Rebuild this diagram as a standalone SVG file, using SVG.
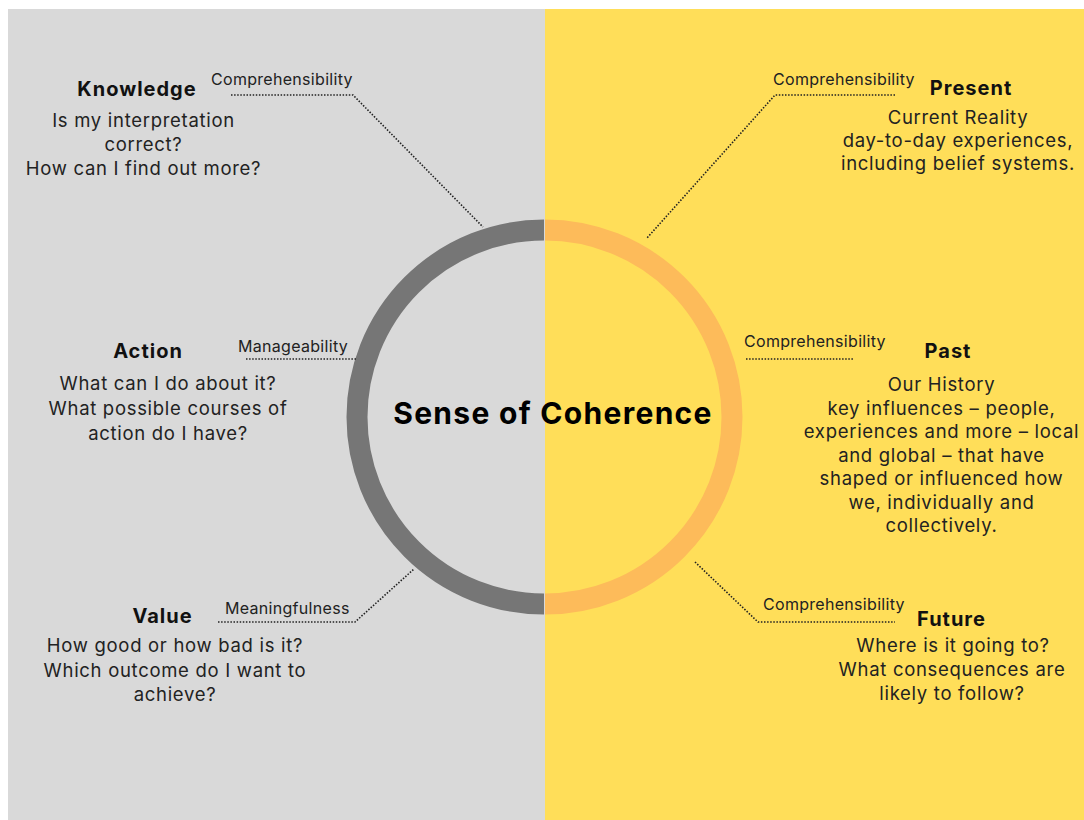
<svg xmlns="http://www.w3.org/2000/svg" width="1084" height="820" viewBox="0 0 1084 820">
  <style>
    .title { font-family: Inter, "DejaVu Sans", sans-serif; font-weight: 700; font-size: 20px; letter-spacing: 1px; fill: #111; text-anchor: middle; }
    .body { font-family: Inter, "DejaVu Sans", sans-serif; font-weight: 400; font-size: 18.5px; letter-spacing: 0.7px; fill: #222; text-anchor: middle; }
    .label { font-family: Inter, "DejaVu Sans", sans-serif; font-weight: 400; font-size: 16px; letter-spacing: 0.3px; fill: #222; text-anchor: start; }
    .center { font-family: Inter, "DejaVu Sans", sans-serif; font-weight: 700; font-size: 30px; letter-spacing: 1.3px; fill: #000; text-anchor: middle; }
    .dot { fill: none; stroke: #222; stroke-width: 1.6; stroke-dasharray: 1.5 1.6; }
  </style>
  <rect x="0" y="0" width="1084" height="820" fill="#ffffff"/>
  <rect x="8" y="9" width="537" height="811" fill="#D9D9D9"/>
  <rect x="545" y="9" width="539" height="811" fill="#FFDE59"/>

  <g id="ring">
    <path d="M 544 230 A 187 187 0 0 0 544 604" fill="none" stroke="#767676" stroke-width="21"/>
    <path d="M 545 230 A 187 187 0 0 1 545 604" fill="none" stroke="#FDBB5A" stroke-width="21"/>
    <text class="center" x="553" y="424">Sense of Coherence</text>
  </g>

  <g id="connectors">
    <polyline class="dot" points="231,95 353,95 483,227"/>
    <polyline class="dot" points="895,95 775,95 647,238"/>
    <polyline class="dot" points="246,359 356,359"/>
    <polyline class="dot" points="746,359 853,359"/>
    <polyline class="dot" points="218,622 355,622 414,569"/>
    <polyline class="dot" points="695,562 758,622 895,622"/>
  </g>

  <g id="knowledge">
    <text class="label" x="211" y="85">Comprehensibility</text>
    <text class="title" x="137" y="96">Knowledge</text>
    <text class="body" x="143.5" y="127">Is my interpretation</text>
    <text class="body" x="143.5" y="151">correct?</text>
    <text class="body" x="143.5" y="175">How can I find out more?</text>
  </g>

  <g id="present">
    <text class="label" x="773" y="85">Comprehensibility</text>
    <text class="title" x="971" y="95">Present</text>
    <text class="body" x="958" y="124">Current Reality</text>
    <text class="body" x="958" y="147">day-to-day experiences,</text>
    <text class="body" x="958" y="170">including belief systems.</text>
  </g>

  <g id="action">
    <text class="label" x="238" y="352">Manageability</text>
    <text class="title" x="148" y="358">Action</text>
    <text class="body" x="168" y="390">What can I do about it?</text>
    <text class="body" x="168" y="415">What possible courses of</text>
    <text class="body" x="168" y="440">action do I have?</text>
  </g>

  <g id="past">
    <text class="label" x="744" y="347">Comprehensibility</text>
    <text class="title" x="948" y="358">Past</text>
    <text class="body" x="941.5" y="391">Our History</text>
    <text class="body" x="941.5" y="414.5">key influences – people,</text>
    <text class="body" x="941.5" y="438">experiences and more – local</text>
    <text class="body" x="941.5" y="461.5">and global – that have</text>
    <text class="body" x="941.5" y="485">shaped or influenced how</text>
    <text class="body" x="941.5" y="508.5">we, individually and</text>
    <text class="body" x="941.5" y="532">collectively.</text>
  </g>

  <g id="value">
    <text class="label" x="225" y="614">Meaningfulness</text>
    <text class="title" x="162.5" y="623">Value</text>
    <text class="body" x="175" y="652">How good or how bad is it?</text>
    <text class="body" x="175" y="677">Which outcome do I want to</text>
    <text class="body" x="175" y="701">achieve?</text>
  </g>

  <g id="future">
    <text class="label" x="763" y="610">Comprehensibility</text>
    <text class="title" x="951.5" y="626">Future</text>
    <text class="body" x="953" y="652">Where is it going to?</text>
    <text class="body" x="952" y="676">What consequences are</text>
    <text class="body" x="952" y="700">likely to follow?</text>
  </g>
</svg>
